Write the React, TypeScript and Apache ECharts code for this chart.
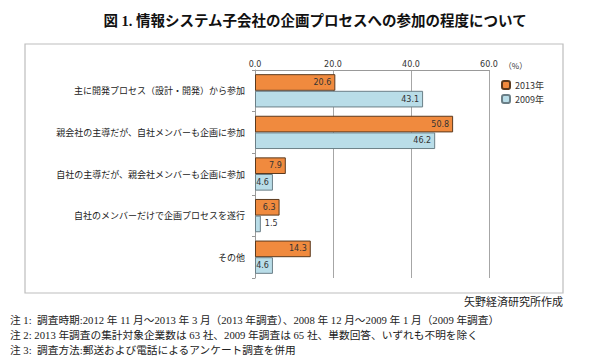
import React, { useEffect, useRef } from "react";
import * as echarts from "echarts";

const categories = [
  "主に開発プロセス（設計・開発）から参加",
  "親会社の主導だが、自社メンバーも企画に参加",
  "自社の主導だが、親会社メンバーも企画に参加",
  "自社のメンバーだけで企画プロセスを遂行",
  "その他",
];
const values2013 = [20.6, 50.8, 7.9, 6.3, 14.3];
const values2009 = [43.1, 46.2, 4.6, 1.5, 4.6];
const seriesNames = ["2013年", "2009年"];
const xTicks = [0, 20, 40, 60];

const titleText = "図 1. 情報システム子会社の企画プロセスへの参加の程度について";
const sourceText = "矢野経済研究所作成";
const notes = [
  "注 1:  調査時期:2012 年 11 月～2013 年 3 月（2013 年調査）、2008 年 12 月～2009 年 1 月（2009 年調査）",
  "注 2: 2013 年調査の集計対象企業数は 63 社、2009 年調査は 65 社、単数回答、いずれも不明を除く",
  "注 3:  調査方法:郵送および電話によるアンケート調査を併用",
];

const SERIF = "'Liberation Serif', 'DejaVu Serif', 'Noto Sans CJK JP', serif";
const SANS = "'Noto Sans CJK JP', 'DejaVu Sans', sans-serif";

export default function App() {
  const ref = useRef<HTMLDivElement>(null);
  useEffect(() => {
    document.body.style.margin = "0";
    if (!ref.current) return;
    const chart = echarts.init(ref.current, null, { renderer: "svg" });
    const mkData = (vals: number[]) =>
      vals.map((v) =>
        v < 3 ? { value: v, label: { position: "right" as const } } : { value: v }
      );
    const labelStyle = {
      show: true,
      position: "insideRight" as const,
      formatter: (p: any) => Number(p.value).toFixed(1),
      fontSize: 8,
      color: "#333",
      fontFamily: "'DejaVu Sans', sans-serif",
      distance: 4,
    };
    chart.setOption({
      animation: false,
      backgroundColor: "#fff",
      textStyle: { fontFamily: SANS },
      graphic: [
        {
          type: "rect",
          shape: { x: 25, y: 44, width: 538, height: 249 },
          style: { fill: "none", stroke: "#bdbdbd", lineWidth: 1.2 },
          z: -1,
        },
        {
          type: "text",
          x: 315,
          y: 21,
          style: {
            text: titleText,
            fontFamily: SERIF,
            fontSize: 14.5,
            fontWeight: "bold",
            fill: "#111",
            align: "center",
            verticalAlign: "middle",
          },
        },
        {
          type: "text",
          x: 563,
          y: 302,
          style: {
            text: sourceText,
            fontFamily: SERIF,
            fontSize: 11,
            fill: "#222",
            align: "right",
            verticalAlign: "middle",
          },
        },
        ...notes.map((n, i) => ({
          type: "text",
          x: 10,
          y: 320 + i * 15,
          style: {
            text: n,
            fontFamily: SERIF,
            fontSize: 10.7,
            fill: "#222",
            align: "left",
            verticalAlign: "middle",
          },
        })),
      ],
      legend: {
        orient: "vertical",
        left: 496,
        top: 75,
        itemWidth: 8,
        itemHeight: 8,
        itemGap: 4,
        textStyle: { fontSize: 9, color: "#333", fontFamily: SANS },
        data: seriesNames,
      },
      grid: { left: 255, right: 111, top: 70, bottom: 84 },
      xAxis: {
        type: "value",
        position: "top",
        min: xTicks[0],
        max: xTicks[xTicks.length - 1],
        interval: 20,
        name: "（%）",
        nameLocation: "end",
        nameGap: -2,
        nameTextStyle: {
          fontSize: 8,
          color: "#333",
          verticalAlign: "bottom",
          align: "left",
          padding: [0, 0, 1, 9],
          fontFamily: SANS,
        },
        axisLine: { show: true, lineStyle: { color: "#999" } },
        axisTick: { show: false },
        axisLabel: {
          fontSize: 8,
          color: "#333",
          margin: 2,
          fontFamily: "'DejaVu Sans', sans-serif",
          formatter: (v: number) => v.toFixed(1),
        },
        splitLine: { show: true, lineStyle: { color: "#a6a6a6", width: 1 } },
      },
      yAxis: {
        type: "category",
        inverse: true,
        data: categories,
        axisLine: { show: true, lineStyle: { color: "#999" } },
        axisTick: { show: true, length: 3, lineStyle: { color: "#999" } },
        axisLabel: { fontSize: 9, color: "#222", margin: 10, fontFamily: SANS },
        splitLine: { show: false },
      },
      series: [
        {
          name: seriesNames[0],
          type: "bar",
          data: mkData(values2013),
          barCategoryGap: "20%",
          barGap: "0%",
          itemStyle: { color: "#F08A3E", borderColor: "#5b3a1e", borderWidth: 1 },
          label: labelStyle,
        },
        {
          name: seriesNames[1],
          type: "bar",
          data: mkData(values2009),
          barCategoryGap: "20%",
          barGap: "0%",
          itemStyle: { color: "#B9DDE8", borderColor: "#6b7f87", borderWidth: 1 },
          label: labelStyle,
        },
      ],
    });
    return () => chart.dispose();
  }, []);
  return <div ref={ref} style={{ width: 600, height: 362 }} />;
}
